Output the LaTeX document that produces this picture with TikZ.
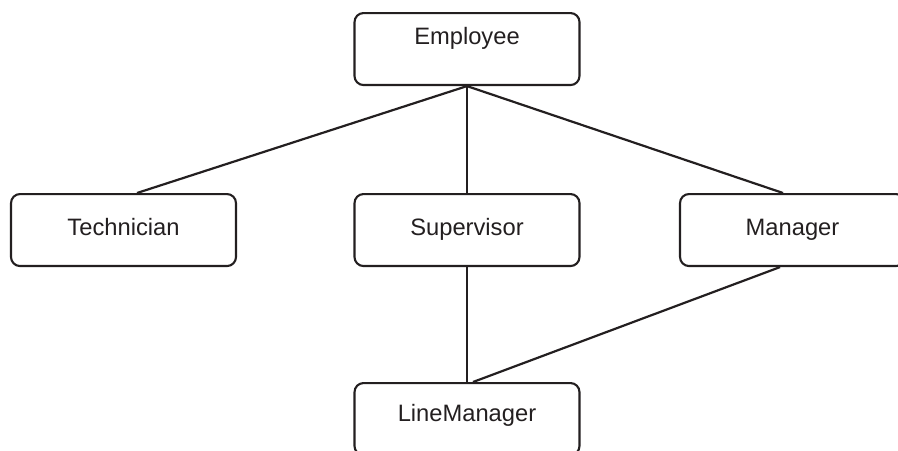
\documentclass[tikz,border=0pt]{standalone}
\usepackage{fontspec}
\setmainfont{Liberation Sans}
\usetikzlibrary{positioning}
\definecolor{ink}{HTML}{231F20}
\tikzset{box/.style={draw=ink, line width=1.2pt, rounded corners=0.18cm, minimum width=4.5cm, inner sep=0pt, anchor=north, text=ink, font=\fontsize{13.5}{16}\selectfont}}
\tikzset{mid/.style={text height=0.82cm, text depth=0.62cm}}
\tikzset{link/.style={draw=ink, line width=1.25pt}}

\begin{document}
\begin{tikzpicture}[x=0.02cm,y=-0.02cm]
      \useasboundingbox (0,0) rectangle (898,450);
      \node[box, text height=0.62cm, text depth=0.82cm] (emp) at (467,12) {Employee};
      \node[box, mid] (tech) at (123.5,193) {Technician};
      \node[box, mid] (sup) at (467,193) {Supervisor};
      \node[box, mid] (man) at (792.5,193) {Manager};
      \node[box, text height=0.76cm, text depth=0.68cm] (line) at (467,382) {LineManager};
      \draw[link] (emp.south) -- ([xshift=0.27cm]tech.north);
      \draw[link] (emp.south) -- (sup.north);
      \draw[link] (emp.south) -- ([xshift=-0.19cm]man.north);
      \draw[link] (sup.south) -- (line.north);
      \draw[link] ([xshift=-0.25cm]man.south) -- ([xshift=0.12cm]line.north);
    \end{tikzpicture}
\end{document}
